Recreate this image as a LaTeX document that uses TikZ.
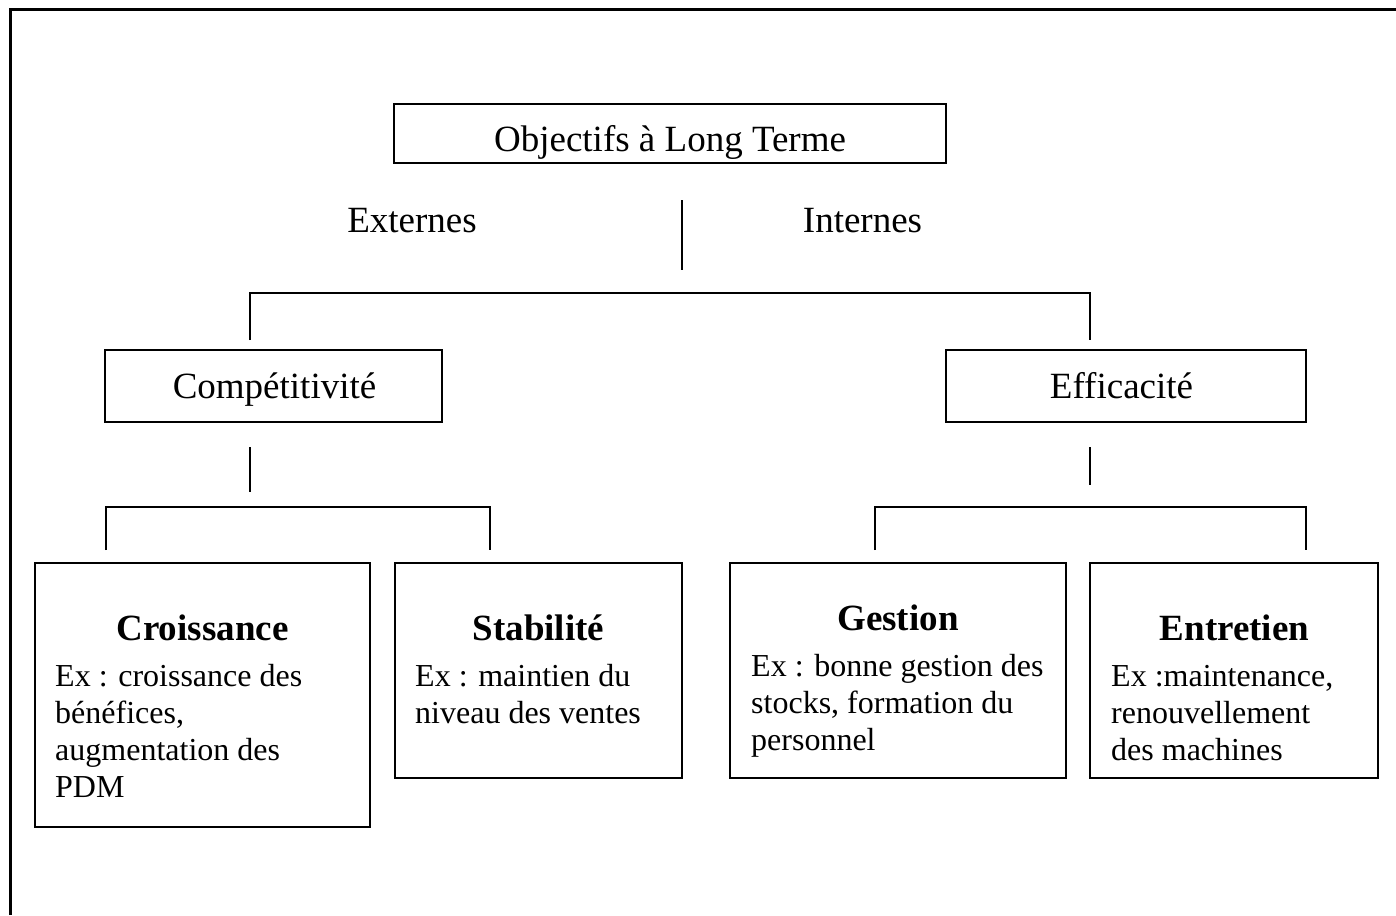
\documentclass[tikz,border=0pt]{standalone}
\usepackage{fontspec}
\setmainfont{Liberation Serif}
\begin{document}
\begin{tikzpicture}[x=1pt,y=-1pt,
  box/.style={draw, line width=2pt, inner sep=0pt},
  wire/.style={line width=1.6pt},
  frame/.style={line width=3pt},
  headfont/.style={font=\fontsize{37}{44}\selectfont},
  titlefont/.style={font=\bfseries\fontsize{37}{44}\selectfont},
  lbl/.style={inner sep=0pt, anchor=base},
  bodytext/.style={font=\fontsize{32}{37}\selectfont, align=left, inner sep=0pt, anchor=base west}]

\useasboundingbox (0,0) rectangle (1396,915);

% outer frame (open on the right and at the bottom)
\coordinate (fbl) at (10,915);
\coordinate (ftl) at (10,10);
\coordinate (ftr) at (1396,10);
\draw[frame] (fbl) -- (ftl) -- (ftr);

% top box, its text cut off by the inner edge of the text area
\node[box, minimum width=552pt, minimum height=59pt] (obj) at (670,133.5) {};
\begin{scope}
  \clip (obj.north west) rectangle ([yshift=-6pt]obj.south east);
  \node[lbl, headfont] (objtxt) at (670,151) {Objectifs à Long Terme};
\end{scope}

% the two sides
\node[lbl, headfont] (ext) at (412,232) {Externes};
\node[lbl, headfont] (int) at (862.5,232) {Internes};
\coordinate (divtop) at (682,200);
\coordinate (divbot) at (682,270);
\draw[wire] (divtop) -- (divbot);

% second level
\node[box, minimum width=337pt, minimum height=72pt] (comp) at (273.5,386) {};
\node[lbl, headfont] (comptxt) at (274.5,398) {Compétitivité};
\node[box, minimum width=360pt, minimum height=72pt] (eff) at (1126,386) {};
\node[lbl, headfont] (efftxt) at (1121.5,398) {Efficacité};

\coordinate (tl) at (250,293);
\coordinate (tr) at (1090,293);
\coordinate (tlb) at (250,340);
\coordinate (trb) at (1090,340);
\draw[wire] (tlb) -- (tl) -- (tr) -- (trb);

% stems under the second level
\coordinate (cst) at (250,447);
\coordinate (csb) at (250,492);
\coordinate (est) at (1090,447);
\coordinate (esb) at (1090,485);
\draw[wire] (cst) -- (csb);
\draw[wire] (est) -- (esb);

% brackets over the third level
\coordinate (lb1) at (106,550);
\coordinate (lb2) at (106,507);
\coordinate (lb3) at (490,507);
\coordinate (lb4) at (490,550);
\draw[wire] (lb1) -- (lb2) -- (lb3) -- (lb4);
\coordinate (rb1) at (875,550);
\coordinate (rb2) at (875,507);
\coordinate (rb3) at (1306,507);
\coordinate (rb4) at (1306,550);
\draw[wire] (rb1) -- (rb2) -- (rb3) -- (rb4);

% third level (body texts are placed by the baseline of their last line)
\node[box, minimum width=335pt, minimum height=264pt] (croi) at (202.5,695) {};
\node[lbl, titlefont] (croit) at (202.5,640) {Croissance};
\node[bodytext] (croib) at (55,797) {Ex : croissance des\\bénéfices,\\augmentation des\\PDM};

\node[box, minimum width=287pt, minimum height=215pt] (stab) at (538.5,670.5) {};
\node[lbl, titlefont] (stabt) at (538.5,640) {Stabilité};
\node[bodytext] (stabb) at (415,723) {Ex : maintien du\\niveau des ventes};

\node[box, minimum width=336pt, minimum height=215pt] (gest) at (898,670.5) {};
\node[lbl, titlefont] (gestt) at (898,630) {Gestion};
\node[bodytext] (gestb) at (751,750) {Ex : bonne gestion des\\stocks, formation du\\personnel};

\node[box, minimum width=288pt, minimum height=215pt] (entr) at (1234,670.5) {};
\node[lbl, titlefont] (entrt) at (1234.5,640) {Entretien};
\node[bodytext] (entrb) at (1111,760) {Ex :maintenance,\\renouvellement\\des machines};

\end{tikzpicture}
\end{document}
